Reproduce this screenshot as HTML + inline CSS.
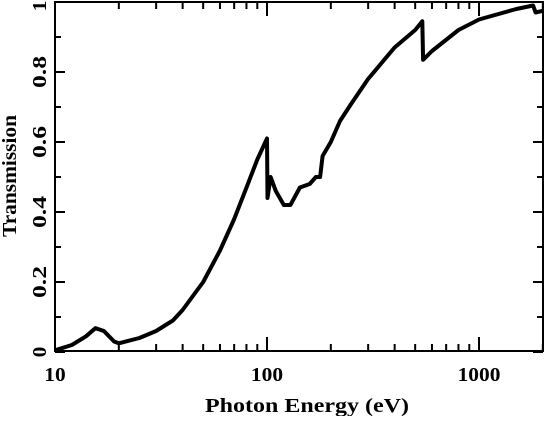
<!DOCTYPE html>
<html><head><meta charset="utf-8"><style>
html,body{margin:0;padding:0;background:#fff;}
svg text{font-family:"Liberation Serif",serif;font-weight:bold;fill:#000;}
</style></head><body>
<svg id="chart" width="545" height="416" xmlns="http://www.w3.org/2000/svg">
<g id="ax"></g>
</svg>
<script>
const energies=[10,12,14,15.5,17,19,20,25,30,36,40,50,60,70,80,90,100,100.5,104,110,120,129,143,159,170,178,183,200,221,250,300,400,500,540,545,600,800,1000,1500,1800,1850,2000];
const transmission=[0.005,0.02,0.045,0.068,0.06,0.03,0.025,0.04,0.06,0.09,0.12,0.2,0.29,0.38,0.47,0.55,0.61,0.44,0.5,0.46,0.42,0.42,0.47,0.48,0.5,0.5,0.56,0.6,0.66,0.71,0.78,0.87,0.92,0.945,0.835,0.86,0.92,0.95,0.98,0.99,0.97,0.975];
const yTicks=[0,0.2,0.4,0.6,0.8,1];
const xLabels=[10,100,1000];
const X0=55,X1=543,Y0=351,Y1=2;
const NS="http://www.w3.org/2000/svg";
function xs(v){return X0+212*Math.log10(v/10);}
function ys(v){return 352-350*v;}
const g=document.getElementById('ax');
function mk(t,a){const e=document.createElementNS(NS,t);for(const k in a)e.setAttribute(k,a[k]);g.appendChild(e);return e;}
const f=mk('rect',{x:X0,y:Y1,width:X1-X0,height:Y0-Y1,fill:'none',stroke:'#000','stroke-width':2});


for(let d=10;d<=1000;d*=10){for(let m=1;m<10;m++){const v=d*m;if(v>2000)break;const x=xs(v);const L=m==1?14:7;
const t1=mk('line',{x1:x,x2:x,y1:Y0,y2:Y0-L,stroke:'#000','stroke-width':2});


const t2=mk('line',{x1:x,x2:x,y1:Y1,y2:Y1+L,stroke:'#000','stroke-width':2});

}}
xLabels.forEach(v=>{const s=String(v);const t=mk('text',{x:xs(v),y:381,'text-anchor':'middle','font-size':20,textLength:s.length*10.7,lengthAdjust:'spacingAndGlyphs'});t.textContent=s;

});
for(let i=0;i<=10;i++){const v=i/10;const y=ys(v);const L=i%2==0?10:6;
const a=mk('line',{x1:X0,x2:X0+L,y1:y,y2:y,stroke:'#000','stroke-width':2});


const b=mk('line',{x1:X1,x2:X1-L,y1:y,y2:y,stroke:'#000','stroke-width':2});

}
yTicks.forEach(v=>{const s=String(v);const y=Math.max(ys(v),6);const t=mk('text',{x:0,y:0,'text-anchor':'middle','font-size':20,textLength:s.length*10.7,lengthAdjust:'spacingAndGlyphs',transform:`translate(46,${y}) rotate(-90)`});t.textContent=s;

});
const xt=mk('text',{x:307,y:412,'text-anchor':'middle','font-size':20,textLength:204,lengthAdjust:'spacingAndGlyphs'});xt.textContent='Photon Energy (eV)';


const yt=mk('text',{x:0,y:0,'text-anchor':'middle','font-size':20,textLength:122,lengthAdjust:'spacingAndGlyphs',transform:'translate(16,176) rotate(-90)'});yt.textContent='Transmission';


const p=mk('polyline',{points:energies.map((e,i)=>xs(e).toFixed(1)+','+ys(transmission[i]).toFixed(1)).join(' '),fill:'none',stroke:'#000','stroke-width':4,'stroke-linejoin':'round'});


</script>
</body></html>
